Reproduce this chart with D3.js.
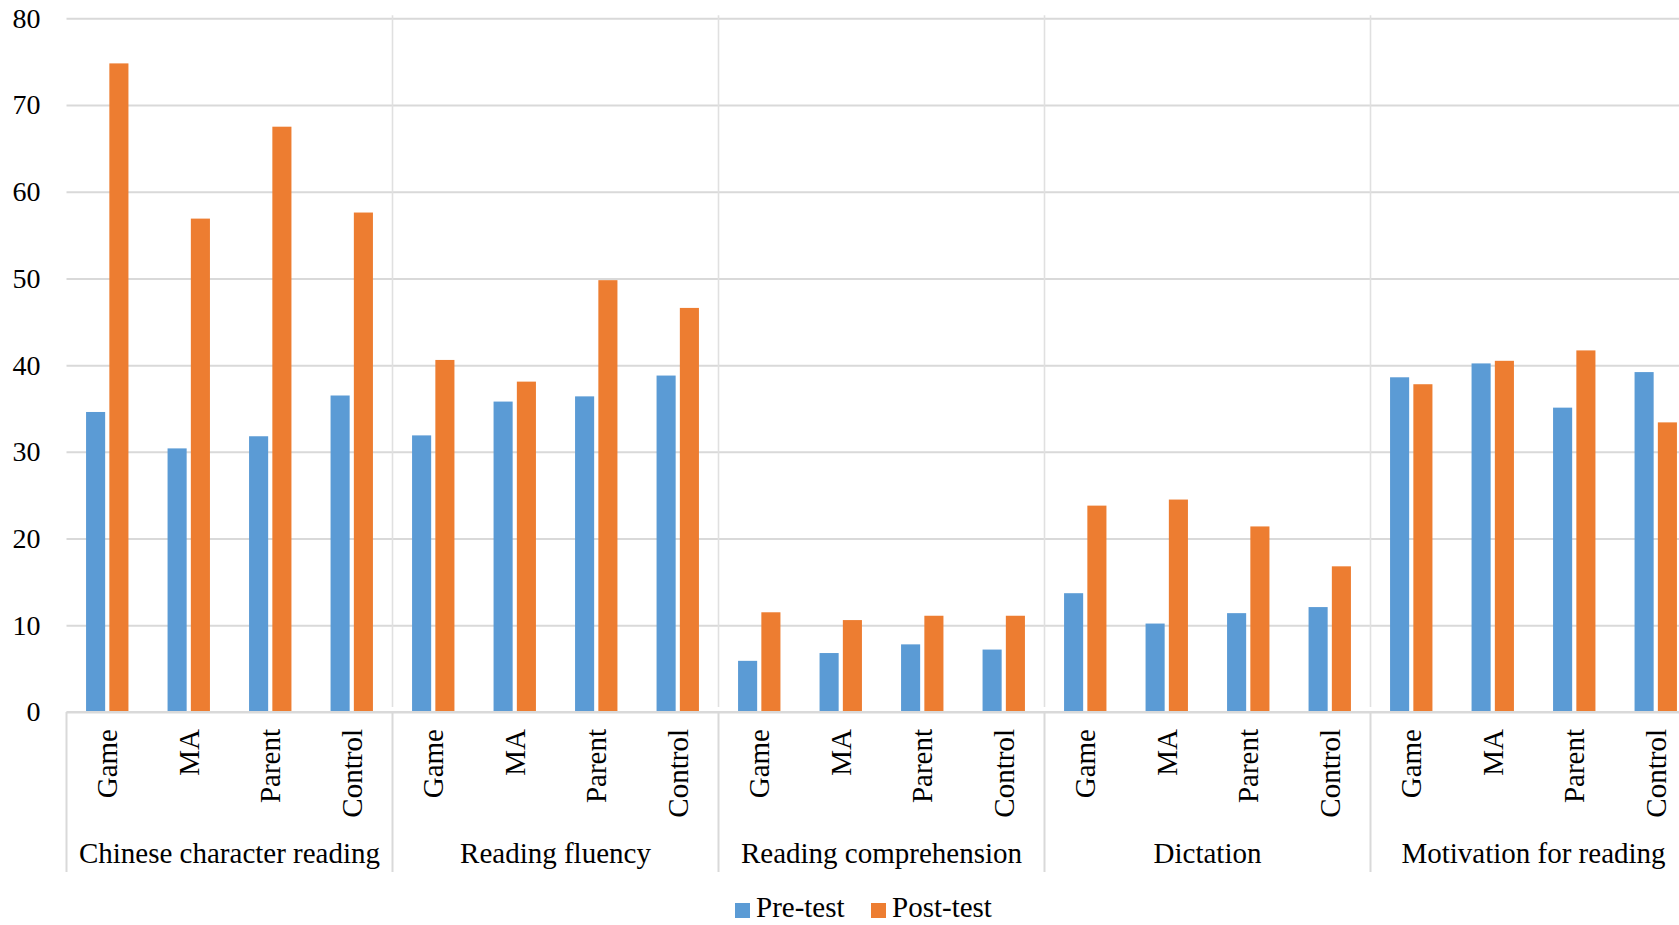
<!DOCTYPE html>
<html>
<head>
<meta charset="utf-8">
<script src="https://cdn.jsdelivr.net/npm/d3@7"></script>
<style>
  html, body { margin: 0; padding: 0; background: #fff; overflow: hidden; }
  svg { display: block; }
  text { font-family: "Liberation Serif", "Times New Roman", "DejaVu Serif", serif; fill: #000; }
</style>
</head>
<body>
<svg id="chart" width="1679" height="925"></svg>
<script>
const groups = ["Chinese character reading", "Reading fluency", "Reading comprehension", "Dictation", "Motivation for reading"];
const conditions = ["Game", "MA", "Parent", "Control"];
const series = ["Pre-test", "Post-test"];
const preTest  = [34.6, 30.4, 31.8, 36.5,  31.9, 35.8, 36.4, 38.8,  5.9, 6.8, 7.8, 7.2,  13.7, 10.2, 11.4, 12.1,  38.6, 40.2, 35.1, 39.2];
const postTest = [74.8, 56.9, 67.5, 57.6,  40.6, 38.1, 49.8, 46.6,  11.5, 10.6, 11.1, 11.1,  23.8, 24.5, 21.4, 16.8,  37.8, 40.5, 41.7, 33.4];
const yTicks = [0, 10, 20, 30, 40, 50, 60, 70, 80];
const colors = ["#5B9BD5", "#ED7D31"];

const svg = d3.select("#chart");
const plotLeft = 66.5, plotRight = 1696.5, plotTop = 18.3, plotBottom = 712;
const gridColor = "#d9d9d9";

const y = d3.scaleLinear().domain([0, 80]).range([plotBottom, plotTop]);
const xGroup = d3.scaleBand().domain(groups).range([plotLeft, plotRight]);
const xSub = d3.scaleBand().domain(conditions).range([0, xGroup.bandwidth()]);
const xSeries = d3.scaleBand().domain(series)
  .range([xSub.bandwidth() * 0.24, xSub.bandwidth() * 0.76]).paddingInner(0.18);
const color = d3.scaleOrdinal().domain(series).range(colors);

// Data table
const rows = [];
groups.forEach((g, gi) => conditions.forEach((c, ci) => {
  const i = gi * conditions.length + ci;
  rows.push({ group: g, cond: c, series: series[0], value: preTest[i] });
  rows.push({ group: g, cond: c, series: series[1], value: postTest[i] });
}));

// Horizontal gridlines
const yAxis = d3.axisLeft(y).tickValues(yTicks).tickSize(-(plotRight - plotLeft)).tickPadding(26).tickFormat(d3.format("d"));
const gy = svg.append("g").attr("transform", `translate(${plotLeft},0)`).call(yAxis);
gy.select(".domain").remove();
gy.selectAll(".tick line").attr("stroke", gridColor).attr("stroke-width", 2);
gy.selectAll(".tick text").attr("font-size", 28).attr("fill", "#000")
  .style("font-family", '"Liberation Serif", "Times New Roman", serif');

// Vertical gridlines in plot area at group boundaries
const boundaries = groups.slice(1).map(g => xGroup(g));
svg.append("g").selectAll("line").data(boundaries).join("line")
  .attr("x1", d => d).attr("x2", d => d)
  .attr("y1", plotTop - 3).attr("y2", plotBottom - 5)
  .attr("stroke", "#e0e0e0").attr("stroke-width", 1.6);

// Bars
svg.append("g").selectAll("rect").data(rows).join("rect")
  .attr("x", d => xGroup(d.group) + xSub(d.cond) + xSeries(d.series))
  .attr("width", xSeries.bandwidth())
  .attr("y", d => y(d.value))
  .attr("height", d => y(0) - y(d.value))
  .attr("fill", d => color(d.series));

// Category axis line
svg.append("line").attr("x1", plotLeft).attr("x2", plotRight).attr("y1", plotBottom).attr("y2", plotBottom)
  .attr("stroke", gridColor).attr("stroke-width", 2);

// Group separator lines below axis
const allBounds = groups.map(g => xGroup(g)).concat([plotRight]);
svg.append("g").selectAll("line").data(allBounds).join("line")
  .attr("x1", d => d).attr("x2", d => d)
  .attr("y1", plotBottom).attr("y2", 872)
  .attr("stroke", gridColor).attr("stroke-width", 2);

// Rotated condition labels
const subLabels = [];
groups.forEach(g => conditions.forEach(c => subLabels.push({ g, c })));
svg.append("g").selectAll("text").data(subLabels).join("text")
  .attr("transform", d => `translate(${xGroup(d.g) + xSub(d.c) + xSub.bandwidth() / 2},729) rotate(-90)`)
  .attr("text-anchor", "end")
  .attr("dy", "0.34em")
  .attr("font-size", 29)
  .text(d => d.c);

// Group labels
svg.append("g").selectAll("text").data(groups).join("text")
  .attr("x", d => xGroup(d) + xGroup.bandwidth() / 2)
  .attr("y", 863)
  .attr("text-anchor", "middle")
  .attr("font-size", 29)
  .text(d => d);

// Legend
const legendItems = [{ s: series[0], x: 735 }, { s: series[1], x: 871 }];
const lg = svg.append("g");
lg.selectAll("rect").data(legendItems).join("rect")
  .attr("x", d => d.x).attr("y", 903).attr("width", 15).attr("height", 15)
  .attr("fill", d => color(d.s));
lg.selectAll("text").data(legendItems).join("text")
  .attr("x", d => d.x + 21).attr("y", 917)
  .attr("font-size", 29)
  .text(d => d.s);
</script>
</body>
</html>
